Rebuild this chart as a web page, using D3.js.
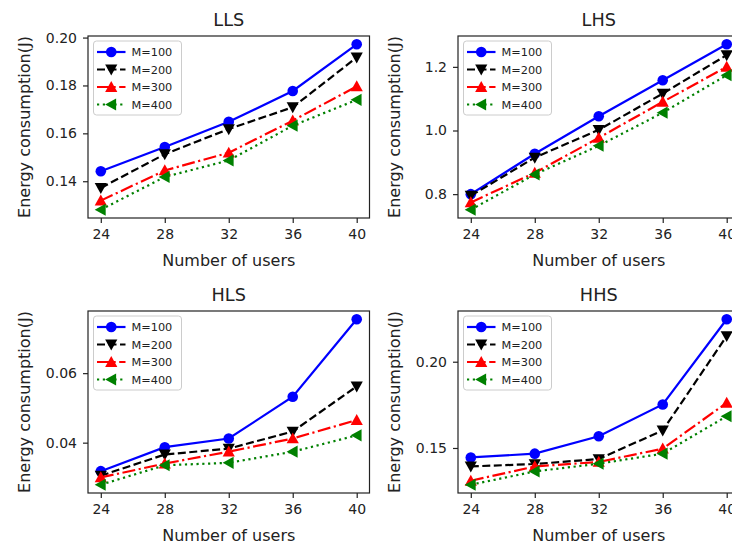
<!DOCTYPE html>
<html><head><meta charset="utf-8">
<script src="https://cdn.jsdelivr.net/npm/d3@7"></script>
<style>body{margin:0;background:#fff}svg{display:block}text{font-family:"DejaVu Sans",sans-serif;fill:#222}</style>
</head><body><svg id="c" width="732" height="547"></svg>
<script>
const users = [24, 28, 32, 36, 40];
const seriesNames = ["M=100", "M=200", "M=300", "M=400"];
const titles = ["LLS", "LHS", "HLS", "HHS"];
// LLS
const llsM100 = [0.1442, 0.1543, 0.1648, 0.1777, 0.1972];
const llsM200 = [0.1372, 0.1513, 0.1618, 0.1709, 0.1917];
const llsM300 = [0.1319, 0.1445, 0.1519, 0.1653, 0.1796];
const llsM400 = [0.1281, 0.1418, 0.1487, 0.1632, 0.1740];
// LHS
const lhsM100 = [0.800, 0.927, 1.045, 1.158, 1.271];
const lhsM200 = [0.795, 0.915, 1.002, 1.116, 1.237];
const lhsM300 = [0.774, 0.867, 0.977, 1.090, 1.200];
const lhsM400 = [0.751, 0.862, 0.952, 1.056, 1.174];
// HLS
const hlsM100 = [0.0318, 0.0387, 0.0412, 0.0532, 0.0755];
const hlsM200 = [0.0305, 0.0366, 0.0383, 0.0432, 0.0562];
const hlsM300 = [0.0300, 0.0340, 0.0374, 0.0412, 0.0465];
const hlsM400 = [0.0279, 0.0335, 0.0342, 0.0374, 0.0421];
// HHS
const hhsM100 = [0.1445, 0.1467, 0.1568, 0.1752, 0.2246];
const hhsM200 = [0.1393, 0.1407, 0.1436, 0.1602, 0.2149];
const hhsM300 = [0.1310, 0.1393, 0.1419, 0.1496, 0.1762];
const hhsM400 = [0.1287, 0.1364, 0.1409, 0.1467, 0.1684];
// y tick labels
const llsTicks = [0.14, 0.16, 0.18, 0.20];
const lhsTicks = [0.8, 1.0, 1.2];
const hlsTicks = [0.04, 0.06];
const hhsTicks = [0.15, 0.20];
const xTicks = [24, 28, 32, 36, 40];

const panels = [
  {title: titles[0], data: [llsM100, llsM200, llsM300, llsM400], ticks: llsTicks, fmt: ".2f", x0: 88, y0: 36},
  {title: titles[1], data: [lhsM100, lhsM200, lhsM300, lhsM400], ticks: lhsTicks, fmt: ".1f", x0: 458, y0: 36},
  {title: titles[2], data: [hlsM100, hlsM200, hlsM300, hlsM400], ticks: hlsTicks, fmt: ".2f", x0: 88, y0: 311},
  {title: titles[3], data: [hhsM100, hhsM200, hhsM300, hhsM400], ticks: hhsTicks, fmt: ".2f", x0: 458, y0: 311}
];
const W = 281.5, H = 182;
const colors = ["#0000ff", "#000000", "#ff0000", "#008000"];
const dashes = [null, "8,3.5", "13,3.5,2.2,3.5", "2.2,3.6"];
const markers = ["circle", "down", "up", "left"];

const svg = d3.select("#c");

function marker(g, type, x, y, color, s) {
  s = s || 5.3;
  if (type === "circle") {
    g.append("circle").attr("cx", x).attr("cy", y).attr("r", s).attr("fill", color);
  } else {
    let pts;
    const a = s * 1.15;
    if (type === "down") pts = [[x - a, y - a * 0.8], [x + a, y - a * 0.8], [x, y + a]];
    if (type === "up") pts = [[x - a, y + a * 0.8], [x + a, y + a * 0.8], [x, y - a]];
    if (type === "left") pts = [[x + a * 0.8, y - a], [x + a * 0.8, y + a], [x - a, y]];
    g.append("polygon").attr("points", pts.map(p => p.join(",")).join(" ")).attr("fill", color);
  }
}

panels.forEach(p => {
  const g = svg.append("g");
  const x = d3.scaleLinear().domain([23.2, 40.8]).range([p.x0, p.x0 + W]);
  const all = p.data.flat();
  const [mn, mx] = d3.extent(all);
  const pad = (mx - mn) * 0.05;
  const y = d3.scaleLinear().domain([mn - pad, mx + pad]).range([p.y0 + H, p.y0]);

  // axes
  const xa = g.append("g").attr("transform", `translate(0,${p.y0 + H})`)
    .call(d3.axisBottom(x).tickValues(xTicks).tickSize(5).tickPadding(6).tickFormat(d3.format("d")));
  const ya = g.append("g").attr("transform", `translate(${p.x0},0)`)
    .call(d3.axisLeft(y).tickValues(p.ticks).tickSize(5).tickPadding(6).tickFormat(d3.format(p.fmt)));
  [xa, ya].forEach(a => {
    a.select(".domain").remove();
    a.selectAll("line").attr("stroke", "#222").attr("stroke-width", 1.2);
    a.selectAll("text").style("font-size", "14px").attr("fill", "#222");
  });

  // lines
  const line = d3.line().x((d, i) => x(users[i])).y(d => y(d));
  p.data.forEach((s, k) => {
    g.append("path").datum(s).attr("d", line).attr("fill", "none")
      .attr("stroke", colors[k]).attr("stroke-width", 2.2)
      .attr("stroke-dasharray", dashes[k]);
    s.forEach((v, i) => marker(g, markers[k], x(users[i]), y(v), colors[k]));
  });

  // frame
  g.append("rect").attr("x", p.x0).attr("y", p.y0).attr("width", W).attr("height", H)
    .attr("fill", "none").attr("stroke", "#222").attr("stroke-width", 1.2);

  // title & labels
  g.append("text").attr("x", p.x0 + W / 2).attr("y", p.y0 - 10).attr("text-anchor", "middle")
    .style("font-size", "17.7px").text(p.title);
  g.append("text").attr("x", p.x0 + W / 2).attr("y", p.y0 + H + 48).attr("text-anchor", "middle")
    .style("font-size", "16px").text("Number of users");
  g.append("text").attr("transform", `translate(${p.x0 - 64},${p.y0 + H / 2}) rotate(-90)`)
    .attr("dy", "0.36em").attr("text-anchor", "middle")
    .style("font-size", "16px").text("Energy consumption(J)");

  // legend
  const lx = p.x0 + 5.5, ly = p.y0 + 5;
  const lg = g.append("g");
  lg.append("rect").attr("x", lx).attr("y", ly).attr("width", 88).attr("height", 74).attr("rx", 3)
    .attr("fill", "#fff").attr("fill-opacity", 0.8).attr("stroke", "#ccc").attr("stroke-width", 1);
  seriesNames.forEach((n, k) => {
    const ry = ly + 11 + k * 17.5;
    lg.append("line").attr("x1", lx + 3.5).attr("x2", lx + 32).attr("y1", ry).attr("y2", ry)
      .attr("stroke", colors[k]).attr("stroke-width", 2.2).attr("stroke-dasharray", dashes[k]);
    marker(lg, markers[k], lx + 17.75, ry, colors[k]);
    lg.append("text").attr("x", lx + 38).attr("y", ry).attr("dy", "0.36em")
      .style("font-size", "11.3px").text(n);
  });
});
</script></body></html>
